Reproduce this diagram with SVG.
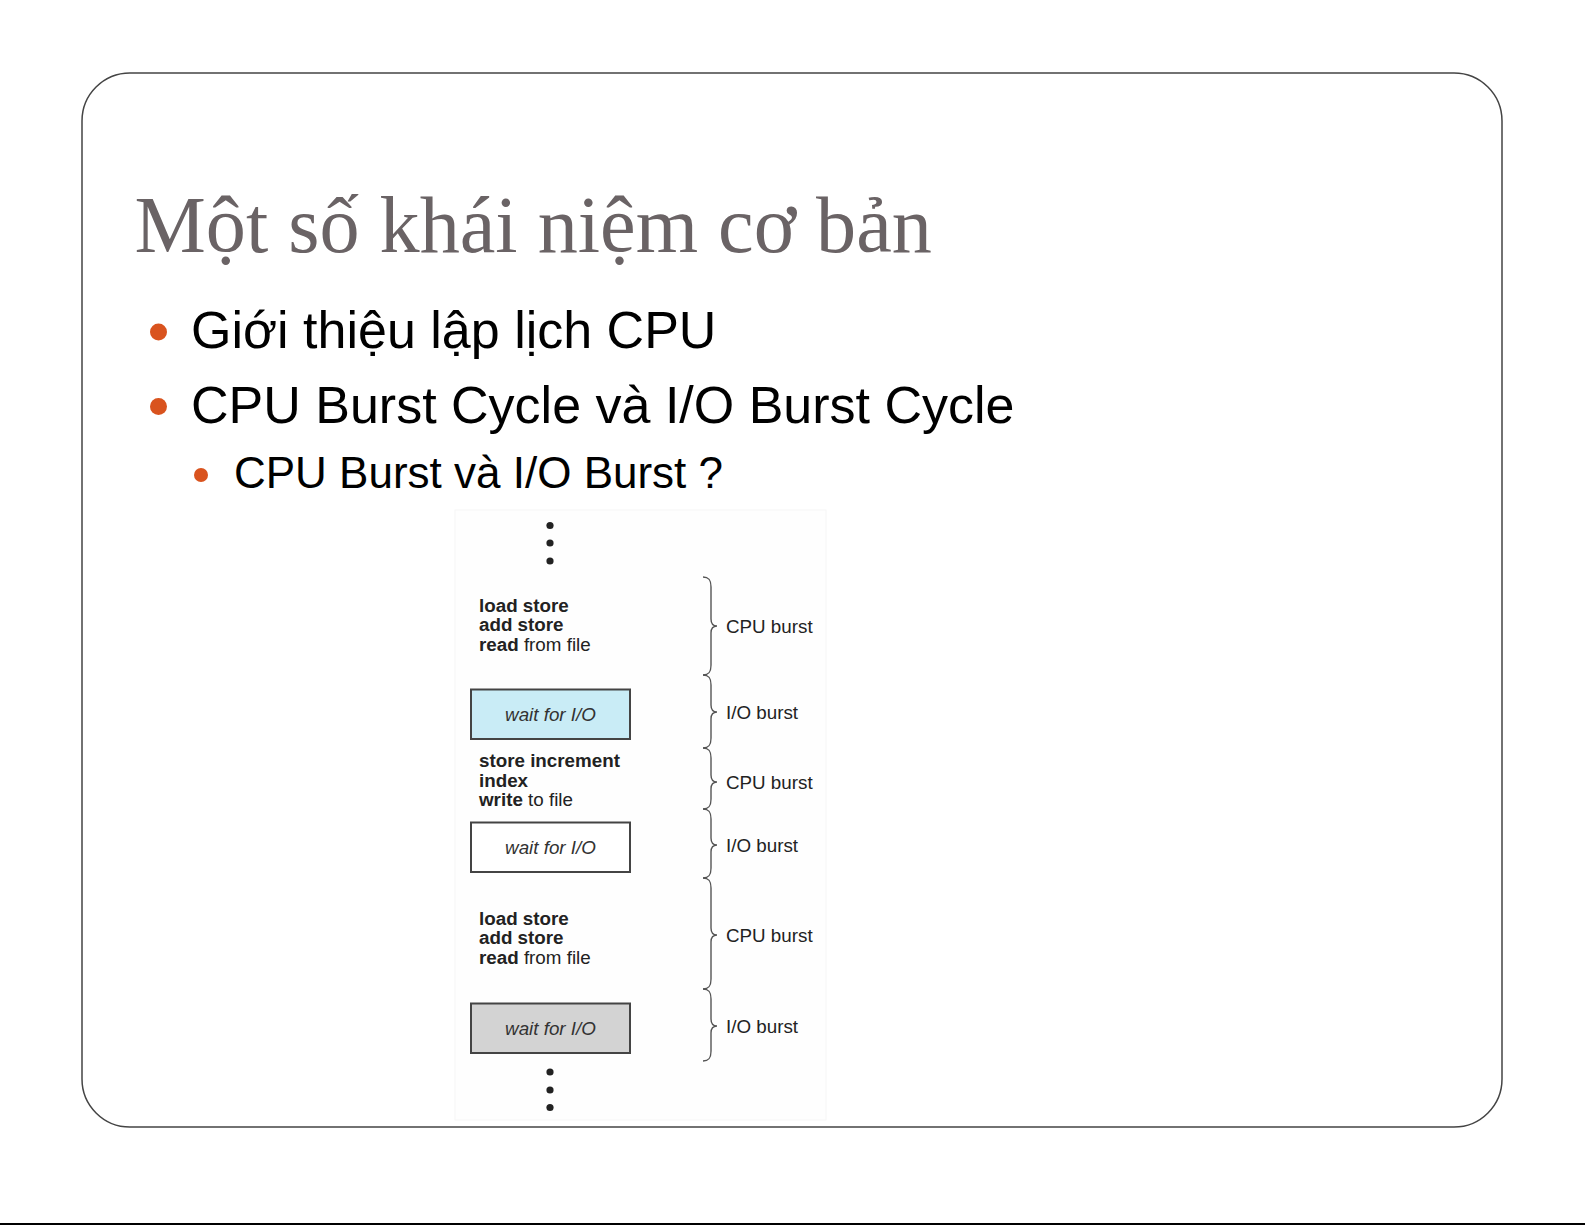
<svg xmlns="http://www.w3.org/2000/svg" width="1585" height="1225" viewBox="0 0 1585 1225">
<style>
.title{font-family:"Liberation Serif","Times New Roman",serif;font-size:80.2px;fill:#6a6365}
.b1{font-family:"Liberation Sans",Arial,sans-serif;font-size:52px;fill:#000}
.b2{font-family:"Liberation Sans",Arial,sans-serif;font-size:44px;fill:#000}
.dot{fill:#d9531e}
.fig{font-family:"Liberation Sans",Arial,sans-serif;font-size:18.8px;fill:#222}
.bold{font-weight:bold}
.box{stroke:#444;stroke-width:2}
.boxt{font-family:"Liberation Sans",Arial,sans-serif;font-size:18.8px;font-style:italic;fill:#333;text-anchor:middle}
.brace{fill:none;stroke:#555;stroke-width:1.4}
.ell{fill:#222}
</style>
<rect x="0" y="0" width="1585" height="1225" fill="#fff"/>
<rect x="82" y="73" width="1420" height="1054" rx="48" ry="48" fill="#fff" stroke="#444" stroke-width="1.5"/>
<rect x="0" y="1223" width="1585" height="2" fill="#000"/>

<g id="title"><text class="title" x="134.5" y="252">Một số khái niệm cơ bản</text></g>

<g id="bullet1"><circle class="dot" cx="158.5" cy="332" r="8.5"/><text class="b1" x="191" y="348">Giới thiệu lập lịch CPU</text></g>
<g id="bullet2"><circle class="dot" cx="158.5" cy="406.5" r="8.5"/><text class="b1" x="191" y="423">CPU Burst Cycle và I/O Burst Cycle</text></g>
<g id="bullet3"><circle class="dot" cx="201" cy="475" r="7"/><text class="b2" x="234" y="488">CPU Burst và I/O Burst ?</text></g>

<g id="figure">
<rect x="455" y="510" width="371" height="610" fill="#fefefe" stroke="#f6f6f6" stroke-width="1"/>
<g id="dots-top"><circle class="ell" cx="550" cy="525.5" r="3.6"/><circle class="ell" cx="550" cy="543" r="3.6"/><circle class="ell" cx="550" cy="561" r="3.6"/></g>
<g id="cpu1">
<text class="fig bold" x="479" y="611.5">load store</text>
<text class="fig bold" x="479" y="631">add store</text>
<text class="fig" x="479" y="650.5"><tspan class="bold">read</tspan> from file</text>
</g>
<g id="io1"><rect class="box" x="471" y="689.5" width="159" height="49.5" fill="#c9ecf6"/><text class="boxt" x="550.5" y="720.5">wait for I/O</text></g>
<g id="cpu2">
<text class="fig bold" x="479" y="767">store increment</text>
<text class="fig bold" x="479" y="786.5">index</text>
<text class="fig" x="479" y="806"><tspan class="bold">write</tspan> to file</text>
</g>
<g id="io2"><rect class="box" x="471" y="822.5" width="159" height="49.5" fill="#fff"/><text class="boxt" x="550.5" y="853.5">wait for I/O</text></g>
<g id="cpu3">
<text class="fig bold" x="479" y="924.5">load store</text>
<text class="fig bold" x="479" y="944">add store</text>
<text class="fig" x="479" y="964"><tspan class="bold">read</tspan> from file</text>
</g>
<g id="io3"><rect class="box" x="471" y="1003.5" width="159" height="49.5" fill="#d3d3d3"/><text class="boxt" x="550.5" y="1034.5">wait for I/O</text></g>
<g id="dots-bottom"><circle class="ell" cx="550" cy="1072" r="3.6"/><circle class="ell" cx="550" cy="1090" r="3.6"/><circle class="ell" cx="550" cy="1107.5" r="3.6"/></g>

<g id="connectors">
<path class="brace" d="M703,577 C709,577 711,580 711,587 L711,619 C711,624 713,626 717,626 C713,626 711,628 711,633 L711,665 C711,672 709,675 703,675"/>
<path class="brace" d="M703,675 C709,675 711,678 711,685 L711,705 C711,710 713,712 717,712 C713,712 711,714 711,719 L711,738 C711,745 709,748 703,748"/>
<path class="brace" d="M703,748 C709,748 711,751 711,758 L711,775 C711,780 713,782 717,782 C713,782 711,784 711,789 L711,799 C711,806 709,809 703,809"/>
<path class="brace" d="M703,809 C709,809 711,812 711,819 L711,838 C711,843 713,845 717,845 C713,845 711,847 711,852 L711,868 C711,875 709,878 703,878"/>
<path class="brace" d="M703,878 C709,878 711,881 711,888 L711,928 C711,933 713,935 717,935 C713,935 711,937 711,942 L711,979 C711,986 709,989 703,989"/>
<path class="brace" d="M703,989 C709,989 711,992 711,999 L711,1019 C711,1024 713,1026 717,1026 C713,1026 711,1028 711,1033 L711,1051 C711,1058 709,1061 703,1061"/>
</g>
<g id="labels">
<text class="fig" x="726" y="632.5">CPU burst</text>
<text class="fig" x="726" y="718.5">I/O burst</text>
<text class="fig" x="726" y="788.5">CPU burst</text>
<text class="fig" x="726" y="851.5">I/O burst</text>
<text class="fig" x="726" y="941.5">CPU burst</text>
<text class="fig" x="726" y="1032.5">I/O burst</text>
</g>
</g>
</svg>
